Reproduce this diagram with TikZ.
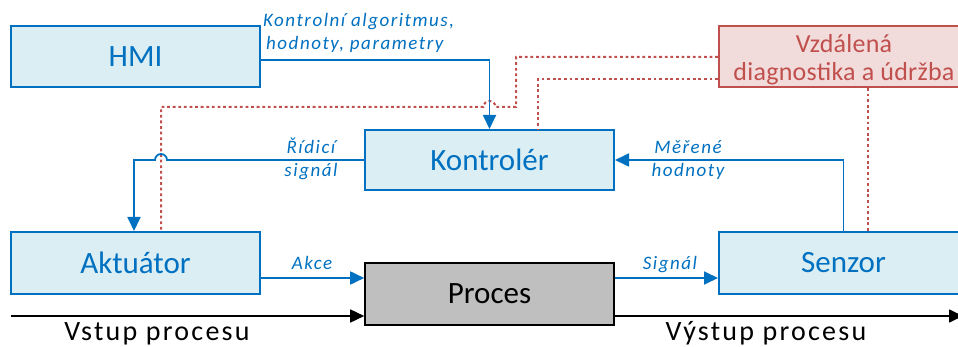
\documentclass[tikz,border=0pt]{standalone}
\usepackage{fontspec}
\setmainfont{Carlito}
\usetikzlibrary{arrows.meta}
\definecolor{ctrlblue}{HTML}{0070C0}
\definecolor{boxfill}{HTML}{DAEEF3}
\definecolor{diagred}{HTML}{C0504D}
\definecolor{diagfill}{HTML}{F2DCDB}
\definecolor{procgray}{HTML}{BFBFBF}
\tikzset{
  blockbox/.style={draw=ctrlblue, fill=boxfill, line width=2pt, text=ctrlblue,
    minimum width=249pt, minimum height=61pt, inner sep=0pt, font=\fontsize{31}{33}\selectfont},
  procbox/.style={blockbox, draw=black, fill=procgray, text=black, line width=1.6pt},
  diagbox/.style={blockbox, draw=diagred, fill=diagfill},
  diagtext/.style={text=diagred, align=center, inner sep=0pt,
    font=\fontsize{26}{28.5}\selectfont\addfontfeature{LetterSpace=1}},
  flow/.style={draw=ctrlblue, line width=1.8pt, -{Triangle[length=14pt,width=13pt]}},
  maint/.style={draw=diagred, line width=2pt, dash pattern=on 2.8pt off 2.8pt},
  iolink/.style={draw=black, line width=1.6pt, -{Triangle[length=14pt,width=13pt]}},
  siglabel/.style={text=ctrlblue, inner sep=0pt,
    font=\fontsize{19}{23}\selectfont\itshape\addfontfeature{LetterSpace=8}},
  iolabel/.style={inner sep=0pt, font=\fontsize{28}{30}\selectfont\addfontfeature{LetterSpace=8}}
}
\begin{document}
\begin{tikzpicture}[x=1pt, y=-1pt]
\useasboundingbox (0,0) rectangle (958,347);

% blocks
\node[blockbox] (hmi) at (135.5,56.5) {HMI};
\node[blockbox, minimum height=60pt] (kon) at (489.5,160) {Kontrolér};
\node[blockbox, minimum height=62pt] (akt) at (135.5,263) {Aktuátor};
\node[procbox, minimum height=62pt] (pro) at (489.5,294) {Proces};
\node[blockbox, minimum height=62pt] (sen) at (843.5,263) {Senzor};
\node[diagbox] (vzd) at (843.5,56.5) {};
\node[diagtext, anchor=base] (vzdtext) at (844,81) {Vzdálená\\diagnostika a údržba};

% remote diagnostics links (dotted)
\draw[maint] (vzd.west |- 0,57) -- (516,57) -- (516,107) -- (495.5,107)
  arc[start angle=0, end angle=180, radius=6pt] -- (161,107) -- (akt.north -| 161,0);
\draw[maint] (vzd.west |- 0,79) -- (538,79) -- (kon.north -| 538,0);
\draw[maint] (vzd.south -| 868,0) -- (sen.north -| 868,0);

% control signals
\draw[flow] (hmi.east |- 0,60) -| (kon.north);
\draw[flow] (kon.west) -- (167,160) arc[start angle=0, end angle=180, radius=6pt]
  -- (134,160) -- (akt.north -| 134,0);
\draw[flow] (sen.north) |- (kon.east);
\draw[flow] (akt.east |- 0,278) -- (pro.west |- 0,278);
\draw[flow] (pro.east |- 0,278) -- (sen.west |- 0,278);

% process input and output
\coordinate (vin) at (11,316);
\coordinate (vout) at (963,316);
\draw[iolink] (vin) -- (pro.west |- vin);
\draw[iolink] (pro.east |- vout) -- (vout);

% labels
\node[siglabel, anchor=base west] (lhmi1) at (263,27) {Kontrolní algoritmus,};
\node[siglabel, anchor=base west] (lhmi2) at (266,50) {hodnoty, parametry};
\node[siglabel, anchor=base] (lrid1) at (311,154) {Řídicí};
\node[siglabel, anchor=base] (lrid2) at (311,177) {signál};
\node[siglabel, anchor=base] (lmer1) at (688,154) {Měřené};
\node[siglabel, anchor=base] (lmer2) at (688,177) {hodnoty};
\node[siglabel, anchor=base] (lakce) at (312,270) {Akce};
\node[siglabel, anchor=base] (lsig) at (670,270) {Signál};
\node[iolabel, anchor=base] (lvst) at (157,340) {Vstup procesu};
\node[iolabel, anchor=base] (lvys) at (766,340) {Výstup procesu};
\end{tikzpicture}
\end{document}
